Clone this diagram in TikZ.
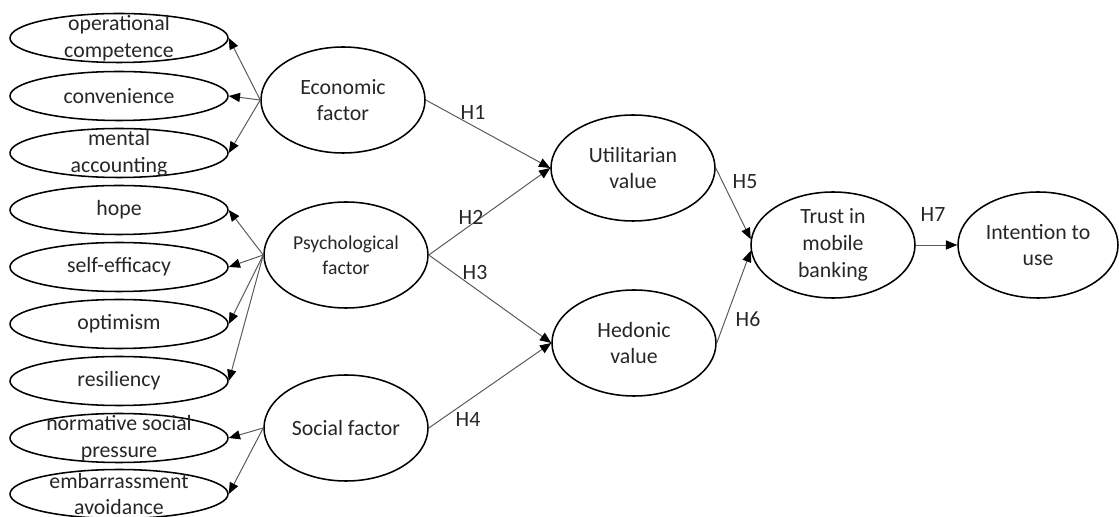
\documentclass[tikz,border=0pt]{standalone}
\usepackage{fontspec}
\setmainfont{Carlito}
\usepackage{tikz}
\usetikzlibrary{
    arrows.meta,
    shapes.geometric
}

\begin{document}
\begin{tikzpicture}[x=0.025cm, y=-0.025cm,
    item/.style={ellipse, draw, line width=1.1pt, minimum width=218*0.025cm,
        minimum height=49*0.025cm, inner sep=0pt},
    itemtext/.style={font=\fontsize{15.5}{19}\selectfont, text=black!85,
        align=center, inner sep=0pt},
    factor/.style={ellipse, draw, line width=1.1pt, minimum width=164*0.025cm,
        minimum height=106*0.025cm, inner sep=0pt, align=center,
        font=\fontsize{15.5}{19}\selectfont, text=black!85},
    link/.style={-{Triangle[length=8pt,width=6.5pt,color=black]}, draw=black!65, line width=0.7pt},
    hyp/.style={font=\fontsize{15.5}{19}\selectfont, text=black!85}
]

\useasboundingbox (0,0) rectangle (1119,517);

% Observed items
\node[item, label={[itemtext]center:operational\\competence}] (opc) at (119,38) {};
\node[item, label={[itemtext]center:convenience}] (conv) at (119,96) {};
\node[item, label={[itemtext]center:mental\\accounting}] (ment) at (119,153) {};
\node[item, label={[itemtext]center:hope}] (hope) at (119,210) {};
\node[item, label={[itemtext]center:self-efficacy}] (self) at (119,267) {};
\node[item, label={[itemtext]center:optimism}] (opt) at (119,324) {};
\node[item, label={[itemtext]center:resiliency}] (res) at (119,381) {};
\node[item, label={[itemtext]center:normative social\\pressure}] (norm) at (119,438) {};
\node[item, label={[itemtext]center:embarrassment\\avoidance}] (emb) at (119,494) {};

% Factors
\node[factor] (econ) at (343,100) {Economic\\factor};
\node[factor, font=\fontsize{14}{18}\selectfont] (psy) at (346,255) {Psychological\\factor};
\node[factor] (soc) at (346,428) {Social factor};

% Values
\node[factor] (util) at (633,168) {Utilitarian\\value};
\node[factor] (hed) at (634,343) {Hedonic\\value};

% Trust and intention
\node[factor] (trust) at (833,245) {Trust in\\mobile\\banking};
\node[factor, minimum width=160*0.025cm] (int) at (1038,245) {Intention to\\use};

% Factor to items
\draw[link] (econ.west) -- (opc.east);
\draw[link] (econ.west) -- (conv.east);
\draw[link] (econ.west) -- (ment.east);
\draw[link] (psy.west) -- (hope.east);
\draw[link] (psy.west) -- (self.east);
\draw[link] (psy.west) -- (opt.east);
\draw[link] (psy.west) -- (res.east);
\draw[link] (soc.west) -- (norm.east);
\draw[link] (soc.west) -- (emb.east);

% Hypotheses
\draw[link] (econ.east) -- (util.west);
\draw[link] (psy.east) -- (util.west);
\draw[link] (psy.east) -- (hed.west);
\draw[link] (soc.east) -- (hed.west);
\draw[link] (util.east) -- (trust.176);
\draw[link] (hed.east) -- (trust.184);
\draw[link] (trust.east) -- (int.west);

% Hypothesis labels
\node[hyp] (h1) at (473,112) {H1};
\node[hyp] (h2) at (471,217) {H2};
\node[hyp] (h3) at (475,273) {H3};
\node[hyp] (h4) at (468,420) {H4};
\node[hyp] (h5) at (745,182) {H5};
\node[hyp] (h6) at (748,319) {H6};
\node[hyp] (h7) at (933,215) {H7};

\end{tikzpicture}
\end{document}
